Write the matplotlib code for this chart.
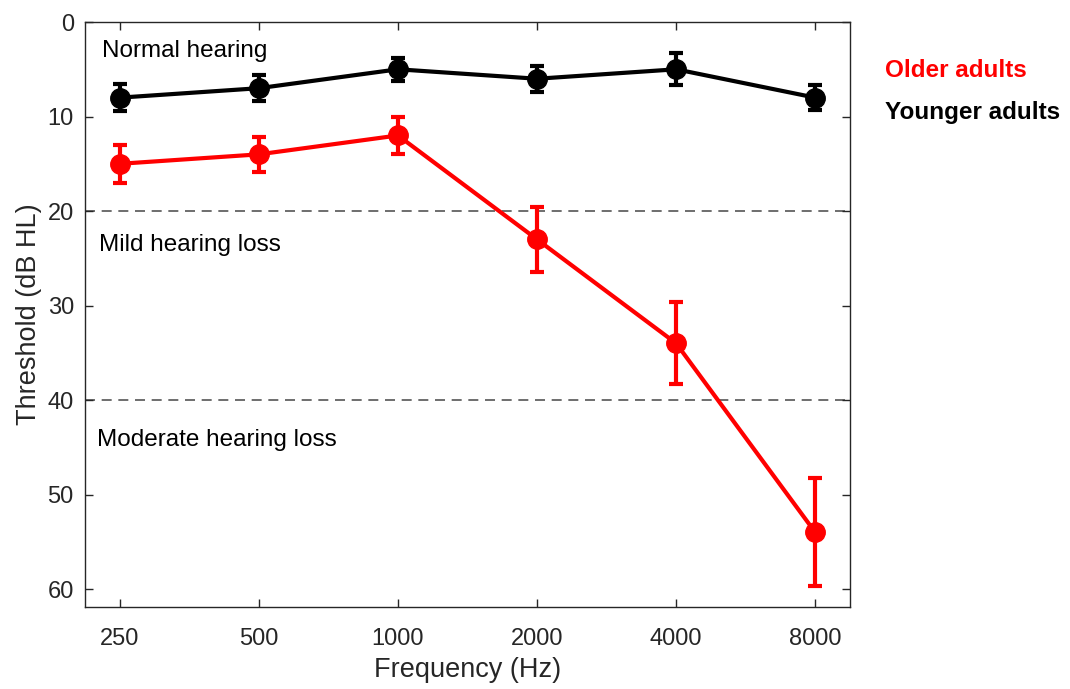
import matplotlib
import matplotlib.pyplot as plt
matplotlib.use('Agg')

plt.rcParams['font.family'] = ['Liberation Sans', 'DejaVu Sans']

freqs = ['250', '500', '1000', '2000', '4000', '8000']
older = [15, 14, 12, 23, 34, 54]
older_err = [2.0, 1.85, 2.0, 3.4, 4.35, 5.7]
younger = [8, 7, 5, 6, 5, 8]
younger_err = [1.45, 1.4, 1.2, 1.4, 1.7, 1.3]

boundaries = [20, 40]
zones = [(0, 'Normal hearing'), (20, 'Mild hearing loss'),
         (40, 'Moderate hearing loss')]


def main():
    fig = plt.figure(figsize=(10.7, 6.89), dpi=100)
    ax = fig.add_axes([0.0794, 0.119, 0.715, 0.849])
    x = list(range(len(freqs)))
    axis_col = '#262626'

    for b in boundaries:
        ax.axhline(b, color='#555555', linestyle=(0, (6, 4)), lw=1.2, zorder=1)

    ax.errorbar(x, younger, yerr=younger_err, color='black', lw=3,
                marker='o', markersize=14, capsize=5, capthick=3,
                elinewidth=3, zorder=3)
    ax.errorbar(x, older, yerr=older_err, color='#ff0000', lw=3,
                marker='o', markersize=14, capsize=5, capthick=3,
                elinewidth=3, zorder=3)

    offsets = [(-0.13, 3.1), (-0.15, 3.6), (-0.16, 4.2)]
    for (y0, label), (dx, dy) in zip(zones, offsets):
        ax.text(dx, y0 + dy, label, fontsize=17.5, color='black',
                va='center', ha='left')

    ax.set_xlim(-0.25, 5.25)
    ax.set_ylim(61.9, 0)
    ax.set_yticks([0, 10, 20, 30, 40, 50, 60])
    ax.set_xticks(x)
    ax.set_xticklabels(freqs)
    ax.tick_params(direction='in', length=6, width=1, colors=axis_col,
                   labelsize=17, top=True, right=True)
    ax.tick_params(axis='x', pad=15)
    ax.tick_params(axis='y', pad=8)
    for sp in ax.spines.values():
        sp.set_color(axis_col)
        sp.set_linewidth(1)
    ax.set_xlabel('Frequency (Hz)', fontsize=19.5, color=axis_col,
                  labelpad=5)
    ax.set_ylabel('Threshold (dB HL)', fontsize=19.5, color=axis_col,
                  labelpad=4)

    fig.text(0.827, 0.898, 'Older adults', color='#ff0000', fontsize=17.5,
             fontweight='bold', va='center')
    fig.text(0.827, 0.837, 'Younger adults', color='black', fontsize=17.5,
             fontweight='bold', va='center')

    fig.savefig('out.png', dpi=100)


if __name__ == '__main__':
    main()
